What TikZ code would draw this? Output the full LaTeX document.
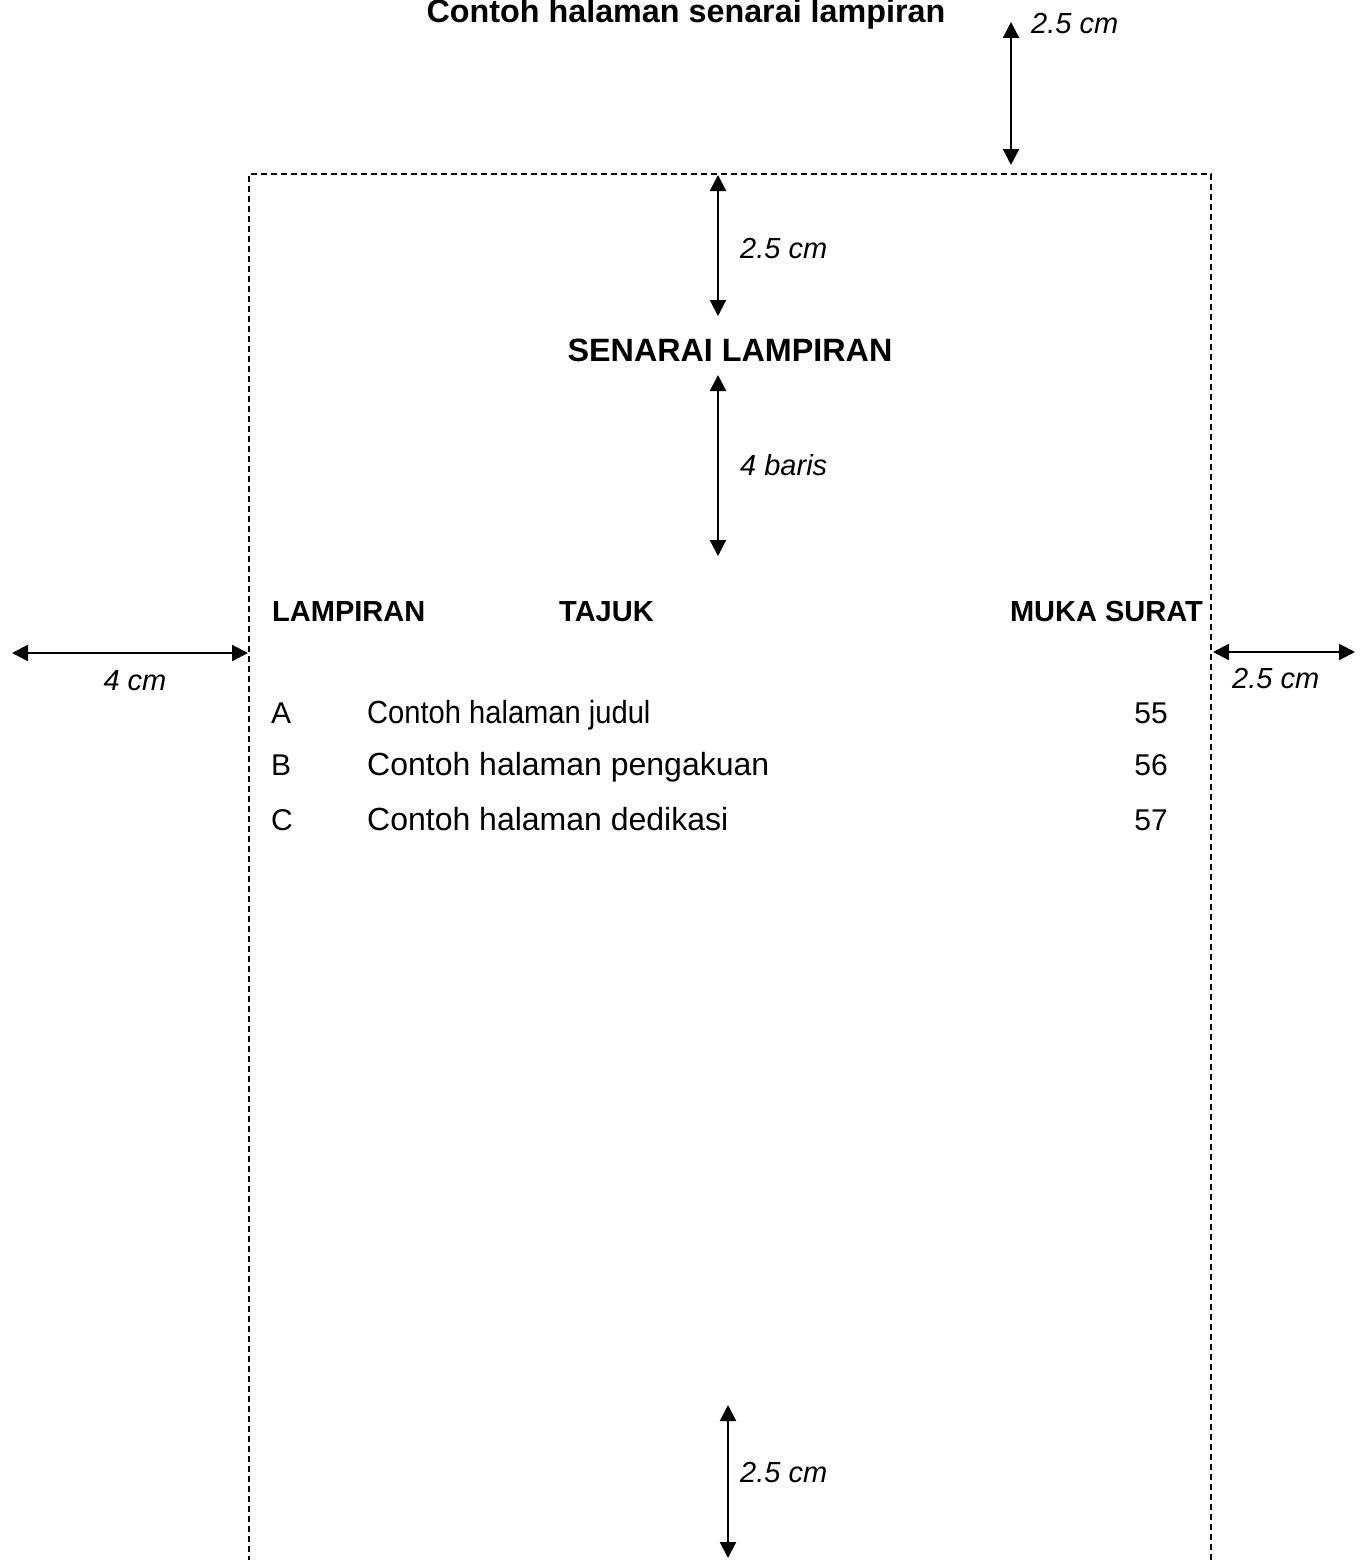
\documentclass[tikz,border=0pt]{standalone}
\usepackage{fontspec}
\setmainfont{Liberation Sans}
\usetikzlibrary{arrows.meta}
\tikzset{
  dimarrow/.style={line width=2.2pt,{Triangle[width=16pt,length=16pt]}-{Triangle[width=16pt,length=16pt]}},
  frame/.style={line width=1.8pt,dash pattern=on 6pt off 4pt},
  lbl/.style={inner sep=0pt,font=\fontsize{29}{34}\selectfont\itshape},
  hdr/.style={inner sep=0pt,font=\fontsize{29}{34}\selectfont\bfseries},
  big/.style={inner sep=0pt,font=\fontsize{32.3}{38}\selectfont\bfseries},
  row/.style={inner sep=0pt,font=\fontsize{32}{38}\selectfont},
  rowsm/.style={inner sep=0pt,font=\fontsize{30}{36}\selectfont}
}
\begin{document}
\begin{tikzpicture}[x=1pt,y=-1pt]
\useasboundingbox (0,0) rectangle (1361,1560);
% frame
\coordinate (fbl) at (249,1562);
\coordinate (ftl) at (249,174);
\coordinate (ftr) at (1211,174);
\coordinate (fbr) at (1211,1562);
\draw[frame] (fbl) -- (ftl) -- (ftr) -- (fbr);
% title
\node[big,anchor=base] (title) at (686,23) {Contoh halaman senarai lampiran};
% top outside arrow
\coordinate (t1) at (1011,22);
\coordinate (t2) at (1011,165);
\draw[dimarrow] (t1) -- (t2);
\node[lbl,anchor=base west] (ltop) at (1031,34) {2.5 cm};
% inner top arrow
\coordinate (a1) at (718,175);
\coordinate (a2) at (718,316);
\draw[dimarrow] (a1) -- (a2);
\node[lbl,anchor=base west] (la) at (740,258) {2.5 cm};
% heading
\node[big,anchor=base] (head) at (730,361) {SENARAI LAMPIRAN};
\coordinate (b1) at (718,375);
\coordinate (b2) at (718,556);
\draw[dimarrow] (b1) -- (b2);
\node[lbl,anchor=base west] (lb) at (740,475) {4 baris};
% column headers
\node[hdr,anchor=base west] (h1) at (272,621) {LAMPIRAN};
\node[hdr,anchor=base west] (h2) at (559,621) {TAJUK};
\node[hdr,anchor=base east] (h3) at (1203,621) {MUKA SURAT};
% side arrows
\coordinate (l1) at (12,653);
\coordinate (l2) at (248,653);
\draw[dimarrow] (l1) -- (l2);
\node[lbl,anchor=base] (ll) at (135,690) {4 cm};
\coordinate (r1) at (1213,652);
\coordinate (r2) at (1355,652);
\draw[dimarrow] (r1) -- (r2);
\node[lbl,anchor=base west] (lr) at (1232,688) {2.5 cm};
% rows
\node[rowsm,anchor=base west] (ra) at (271,723) {A};
\node[rowsm,anchor=base west] (ta) at (367,723) {\scalebox{0.91}[1]{\fontsize{32}{38}\selectfont Contoh halaman judul}};
\node[rowsm,anchor=base east] (pa) at (1168,723) {55};
\node[rowsm,anchor=base west] (rb) at (271,775) {B};
\node[row,anchor=base west] (tb) at (367,775) {Contoh halaman pengakuan};
\node[rowsm,anchor=base east] (pb) at (1168,775) {56};
\node[rowsm,anchor=base west] (rc) at (271,830) {C};
\node[row,anchor=base west] (tc) at (367,830) {Contoh halaman dedikasi};
\node[rowsm,anchor=base east] (pc) at (1168,830) {57};
% bottom arrow
\coordinate (c1) at (728,1405);
\coordinate (c2) at (728,1558);
\draw[dimarrow] (c1) -- (c2);
\node[lbl,anchor=base west] (lc) at (740,1482) {2.5 cm};
\end{tikzpicture}
\end{document}
